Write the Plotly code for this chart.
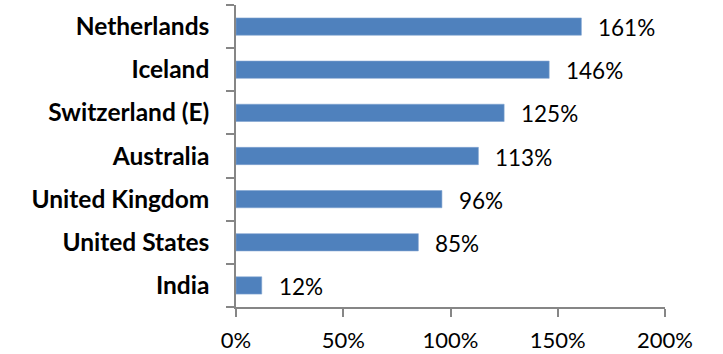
import plotly.graph_objects as go

countries = ["Netherlands", "Iceland", "Switzerland (E)", "Australia",
             "United Kingdom", "United States", "India"]
values = [161, 146, 125, 113, 96, 85, 12]
x_ticks = [0, 50, 100, 150, 200]
x_tick_text = ["0%", "50%", "100%", "150%", "200%"]

FONT = "Lato, Calibri, Carlito, sans-serif"
AXIS_GREY = "#868686"

fig = go.Figure(
    go.Bar(
        x=values,
        y=countries,
        orientation="h",
        marker=dict(color="#4F81BD", line=dict(color="#7FA3D0", width=0.6)),
        hoverinfo="skip",
    )
)

# value labels to the right of each bar
for c, v in zip(countries, values):
    fig.add_annotation(
        x=v, y=c, text=f"{v}%", showarrow=False,
        xanchor="left", yanchor="middle", xshift=15, yshift=-1,
        font=dict(family=FONT, size=22.5, color="#000000"),
    )

fig.update_layout(
    width=723, height=354,
    margin=dict(l=236, r=58, t=5, b=47, pad=0, autoexpand=False),
    paper_bgcolor="white", plot_bgcolor="white",
    bargap=0.6,
    showlegend=False,
    font=dict(family=FONT, color="#000000"),
)

fig.update_xaxes(
    range=[0, 200],
    tickvals=x_ticks, ticktext=x_tick_text,
    showgrid=False, zeroline=False,
    showline=True, linecolor=AXIS_GREY, linewidth=1.5,
    ticks="outside", ticklen=8, tickwidth=1.5, tickcolor=AXIS_GREY,
    tickfont=dict(family=FONT, size=22, color="#000000"),
    ticklabelstandoff=5,
    automargin=False,
    fixedrange=True,
)

fig.update_yaxes(
    categoryorder="array", categoryarray=countries[::-1],
    range=[-0.5, len(countries) - 0.5],
    showgrid=False, zeroline=False,
    showline=True, linecolor=AXIS_GREY, linewidth=1.5,
    ticks="outside", ticklen=8, tickwidth=1.5, tickcolor=AXIS_GREY,
    tickson="boundaries",
    tickfont=dict(family=FONT, size=24.5, color="#000000", weight="bold"),
    ticklabelstandoff=20,
    automargin=False,
    fixedrange=True,
)

fig.write_html("out.html", config={"displayModeBar": False})
